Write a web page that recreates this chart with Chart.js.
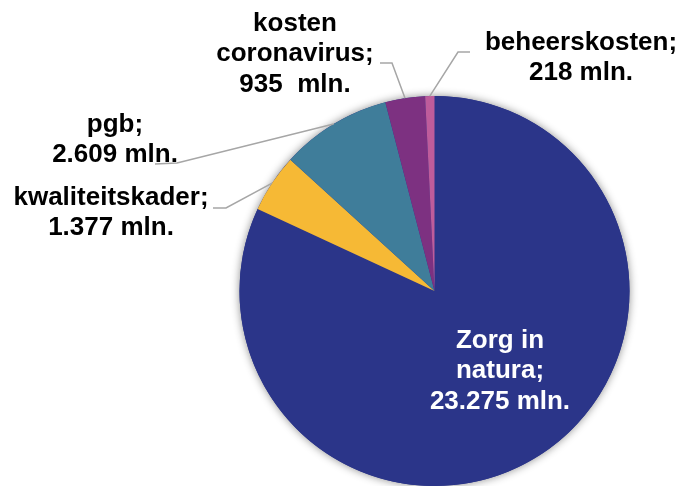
<!DOCTYPE html>
<html>
<head>
<meta charset="utf-8">
<script src="https://cdn.jsdelivr.net/npm/chart.js@4.4.0/dist/chart.umd.min.js"></script>
<style>
  html, body { margin: 0; padding: 0; background: #fff; }
  #wrap { width: 684px; height: 486px; }
</style>
</head>
<body>
<div id="wrap"><canvas id="uitgaven"></canvas></div>
<script>
// uitgaven Wlz, in mln. euro
var categories = ['Zorg in natura', 'kwaliteitskader', 'pgb', 'kosten coronavirus', 'beheerskosten'];
var values = [23275, 1377, 2609, 935, 218];
var valueLabels = ['23.275 mln.', '1.377 mln.', '2.609 mln.', '935  mln.', '218 mln.'];
var labelLines = [
  ['Zorg in', 'natura;', valueLabels[0]],
  ['kwaliteitskader;', valueLabels[1]],
  ['pgb;', valueLabels[2]],
  ['kosten', 'coronavirus;', valueLabels[3]],
  ['beheerskosten;', valueLabels[4]]
];
var colors = ['#2B3589', '#F6B935', '#3F7D9A', '#7D3181', '#BE5C9B'];

// waar de labels staan (tekstmidden van eerste regel) en de knik van de lijn
var labelPlacing = [
  { x: 500, y: 341, inside: true },
  { x: 111, y: 198, knee: [226, 208], end: [213, 208] },
  { x: 115, y: 125, knee: [177, 163], end: [155, 164] },
  { x: 295, y: 24, knee: [392, 63], end: [380, 63] },
  { x: 581, y: 43, knee: [458, 52], end: [470, 52] }
];

var shadowPlugin = {
  id: 'schaduw',
  beforeDatasetsDraw: function (chart) {
    var arc = chart.getDatasetMeta(0).data[0];
    if (!arc) return;
    var ctx = chart.ctx;
    ctx.save();
    ctx.shadowColor = 'rgba(0,0,0,0.45)';
    ctx.shadowBlur = 9;
    ctx.fillStyle = '#2B3589';
    ctx.beginPath();
    ctx.arc(arc.x, arc.y, arc.outerRadius, 0, Math.PI * 2);
    ctx.fill();
    ctx.restore();
  }
};

var labelPlugin = {
  id: 'labels',
  afterDatasetsDraw: function (chart) {
    var ctx = chart.ctx;
    var arcs = chart.getDatasetMeta(0).data;
    ctx.save();
    ctx.font = 'bold 25px "Liberation Sans", Arial, sans-serif';
    ctx.textAlign = 'center';
    ctx.textBaseline = 'middle';
    arcs.forEach(function (arc, i) {
      var p = labelPlacing[i];
      if (!p.inside) {
        var mid = (arc.startAngle + arc.endAngle) / 2;
        var sx = arc.x + Math.cos(mid) * arc.outerRadius;
        var sy = arc.y + Math.sin(mid) * arc.outerRadius;
        ctx.strokeStyle = '#A6A6A6';
        ctx.lineWidth = 1.5;
        ctx.beginPath();
        ctx.moveTo(sx, sy);
        ctx.lineTo(p.knee[0], p.knee[1]);
        ctx.lineTo(p.end[0], p.end[1]);
        ctx.stroke();
      }
      ctx.fillStyle = p.inside ? '#FFFFFF' : '#000000';
      labelLines[i].forEach(function (t, k) {
        ctx.save();
        ctx.translate(p.x, p.y + k * 30.5);
        ctx.scale(1.04, 1);
        ctx.fillText(t, 0, 0);
        ctx.restore();
      });
    });
    ctx.restore();
  }
};

var ctx = document.getElementById('uitgaven').getContext('2d');
var chart = new Chart(ctx, {
  type: 'pie',
  data: {
    labels: categories,
    datasets: [{
      data: values,
      backgroundColor: colors,
      borderWidth: 0
    }]
  },
  options: {
    responsive: true,
    maintainAspectRatio: false,
    animation: false,
    layout: {
      padding: { top: 96, left: 238, right: 53, bottom: -3 }
    },
    plugins: {
      legend: { display: false },
      tooltip: { enabled: false }
    }
  },
  plugins: [shadowPlugin, labelPlugin]
});
</script>
</body>
</html>
